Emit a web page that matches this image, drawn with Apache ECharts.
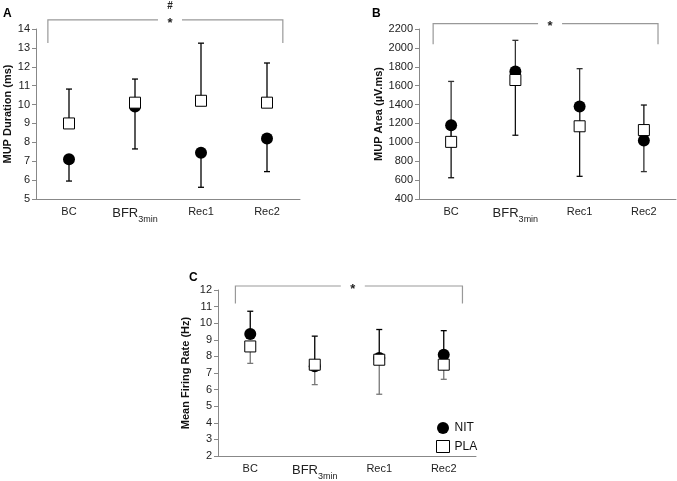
<!DOCTYPE html>
<html>
<head>
<meta charset="utf-8">
<script src="https://cdn.jsdelivr.net/npm/echarts@6/dist/echarts.min.js"></script>
<style>html,body{margin:0;padding:0;background:#fff}#c{width:677px;height:481px}</style>
</head>
<body>
<div id="c"></div>
<script>
// ---- data ----
const categories = ['BC', 'BFR3min', 'Rec1', 'Rec2'];

// Panel A: MUP Duration (ms)
const nitA = [7.1, 9.9, 7.45, 8.2];
const nitAErrEnd = [5.95, 7.65, 5.62, 6.45];
const plaA = [9.0, 10.1, 10.2, 10.1];
const plaAErrEnd = [10.82, 11.35, 13.25, 12.2];

// Panel B: MUP Area (µV.ms)
const nitB = [1180, 1750, 1380, 1020];
const nitBErrEnd = [625, 1075, 640, 1395];
const plaB = [1005, 1660, 1170, 1130];
const plaBErrEnd = [1645, 2080, 1780, 690];

// Panel C: Mean Firing Rate (Hz)
const nitC = [9.35, 7.4, 7.9, 8.1];
const nitCErrEnd = [10.72, 9.22, 9.62, 9.55];
const plaC = [8.6, 7.5, 7.8, 7.5];
const plaCErrEnd = [7.58, 6.3, 5.72, 6.62];

// axis ranges / ticks
const yA = [5, 14, 1];
const yB = [400, 2200, 200];
const yC = [2, 12, 1];

// significance brackets: [top value, bottom value]
const bracketA = [14.48, 13.26];
const bracketB = [2257, 2039];
const bracketC = [12.24, 11.18];
const bracketLabelsA = ['*', '#'];
const bracketLabelsB = ['*'];
const bracketLabelsC = ['*'];

const chart = echarts.init(document.getElementById('c'));
const FONT = 'Liberation Sans, Arial, sans-serif';

function catLabel(v) {
  if (v === 'BFR3min') return '{b|BFR}{s|3min}';
  return '{n|' + v + '}';
}
const richCat = {
  n: {fontSize: 11, color: '#222', fontFamily: FONT, lineHeight: 14, verticalAlign: 'top', padding: [1, 0, 0, 0]},
  b: {fontSize: 13, color: '#222', fontFamily: FONT, lineHeight: 16, verticalAlign: 'top', padding: [2, 0, 0, 0]},
  s: {fontSize: 9, color: '#222', fontFamily: FONT, lineHeight: 10, verticalAlign: 'top', padding: [10, 0, 0, 0]}
};

function xAx(grid) {
  return {
    type: 'category', gridIndex: grid, data: categories,
    axisLine: {lineStyle: {color: '#888', width: 1}},
    axisTick: {show: false},
    axisLabel: {formatter: catLabel, rich: richCat, margin: 6, interval: 0},
    splitLine: {show: false}
  };
}
function yAx(grid, r, name, gap) {
  return {
    type: 'value', gridIndex: grid, min: r[0], max: r[1], interval: r[2],
    name: name, nameLocation: 'middle', nameRotate: 90, nameGap: gap,
    nameTextStyle: {fontSize: 11, fontWeight: 'bold', color: '#111', fontFamily: FONT},
    axisLine: {show: true, lineStyle: {color: '#888', width: 1}},
    axisTick: {show: true, inside: false, length: 4, lineStyle: {color: '#888'}},
    axisLabel: {fontSize: 11, color: '#222', fontFamily: FONT, margin: 6, formatter: function (v) { return String(v); }},
    splitLine: {show: false}
  };
}

function errSeries(grid, vals, ends, color) {
  return {
    type: 'custom', xAxisIndex: grid, yAxisIndex: grid, z: 2, silent: true,
    data: vals.map((v, i) => [i, v, ends[i]]),
    encode: {x: 0, y: [1, 2]},
    renderItem: function (params, api) {
      const i = api.value(0);
      const p1 = api.coord([i, api.value(1)]);
      const p2 = api.coord([i, api.value(2)]);
      const style = {stroke: color, lineWidth: 1.3};
      return {
        type: 'group',
        children: [
          {type: 'line', shape: {x1: p1[0], y1: p1[1], x2: p2[0], y2: p2[1]}, style: style},
          {type: 'line', shape: {x1: p2[0] - 3, y1: p2[1], x2: p2[0] + 3, y2: p2[1]}, style: style}
        ]
      };
    }
  };
}

function nitSeries(grid, vals) {
  return {
    name: 'NIT', type: 'scatter', xAxisIndex: grid, yAxisIndex: grid, z: 3,
    symbol: 'circle', symbolSize: 12,
    itemStyle: {color: '#000', borderColor: '#000', borderWidth: 0, opacity: 1},
    data: vals.map((v, i) => [i, v])
  };
}
function plaSeries(grid, vals) {
  return {
    name: 'PLA', type: 'scatter', xAxisIndex: grid, yAxisIndex: grid, z: 4,
    symbol: 'rect', symbolSize: 11,
    itemStyle: {color: '#fff', borderColor: '#000', borderWidth: 1, opacity: 1},
    data: vals.map((v, i) => [i, v])
  };
}

function bracketSeries(grid, br, labels, offL, offR, offMid) {
  return {
    type: 'custom', xAxisIndex: grid, yAxisIndex: grid, z: 1, silent: true, clip: false,
    data: [[0, br[0], br[1]]],
    encode: {x: 0, y: [1, 2]},
    renderItem: function (params, api) {
      const bw = api.size([1, 0])[0];
      const pL = api.coord([0, api.value(1)]);
      const pR = api.coord([categories.length - 1, api.value(1)]);
      const yBot = api.coord([0, api.value(2)])[1];
      const xL = pL[0] + offL * bw, xR = pR[0] + offR * bw, yT = pL[1];
      const xM = (pL[0] + pR[0]) / 2 + offMid * bw;
      const st = {stroke: '#999', lineWidth: 1.2, fill: null};
      const ch = [
        {type: 'polyline', shape: {points: [[xL, yBot], [xL, yT], [xM - 12, yT]]}, style: st},
        {type: 'polyline', shape: {points: [[xM + 12, yT], [xR, yT], [xR, yBot]]}, style: st},
        {type: 'text', style: {text: labels[0], x: xM, y: yT + 3, align: 'center', verticalAlign: 'middle', fontSize: 13, fontWeight: 'bold', fill: '#222', fontFamily: FONT}}
      ];
      if (labels.length > 1) {
        ch.push({type: 'text', style: {text: labels[1], x: xM, y: yT - 14, align: 'center', verticalAlign: 'middle', fontSize: 10, fontWeight: 'bold', fill: '#222', fontFamily: FONT}});
      }
      return {type: 'group', children: ch};
    }
  };
}

const option = {
  animation: false,
  backgroundColor: '#fff',
  textStyle: {fontFamily: FONT},
  grid: [
    {left: 36, top: 29, width: 264, height: 170},
    {left: 419, top: 29, width: 257, height: 170},
    {left: 218, top: 290, width: 258, height: 170}
  ],
  xAxis: [xAx(0), xAx(1), xAx(2)],
  yAxis: [
    yAx(0, yA, 'MUP Duration (ms)', 22),
    yAx(1, yB, 'MUP Area (µV.ms)', 30),
    yAx(2, yC, 'Mean Firing Rate (Hz)', 27)
  ],
  legend: {
    orient: 'vertical', left: 431, top: 417, itemGap: 6, itemWidth: 13, itemHeight: 12,
    data: [
      {name: 'NIT', icon: 'circle', itemStyle: {color: '#000', borderWidth: 0}},
      {name: 'PLA', icon: 'rect', itemStyle: {color: '#fff', borderColor: '#000', borderWidth: 1}}
    ],
    textStyle: {fontSize: 12, color: '#111', fontFamily: FONT, padding: [0, 0, 0, 0]}
  },
  graphic: [
    {type: 'text', left: 3, top: 8, style: {text: 'A', fontSize: 12, fontWeight: 'bold', fill: '#000', fontFamily: FONT}},
    {type: 'text', left: 372, top: 8, style: {text: 'B', fontSize: 12, fontWeight: 'bold', fill: '#000', fontFamily: FONT}},
    {type: 'text', left: 189, top: 272, style: {text: 'C', fontSize: 12, fontWeight: 'bold', fill: '#000', fontFamily: FONT}}
  ],
  series: [
    bracketSeries(0, bracketA, bracketLabelsA, -0.32, 0.24, 0.03),
    errSeries(0, nitA, nitAErrEnd, '#000'),
    errSeries(0, plaA, plaAErrEnd, '#000'),
    nitSeries(0, nitA),
    plaSeries(0, plaA),

    bracketSeries(1, bracketB, bracketLabelsB, -0.28, 0.22, 0.04),
    errSeries(1, nitB, nitBErrEnd, '#111'),
    errSeries(1, plaB, plaBErrEnd, '#333'),
    nitSeries(1, nitB),
    plaSeries(1, plaB),

    bracketSeries(2, bracketC, bracketLabelsC, -0.23, 0.29, 0.09),
    errSeries(2, nitC, nitCErrEnd, '#000'),
    errSeries(2, plaC, plaCErrEnd, '#777'),
    nitSeries(2, nitC),
    plaSeries(2, plaC)
  ]
};
chart.setOption(option);
</script>
</body>
</html>
